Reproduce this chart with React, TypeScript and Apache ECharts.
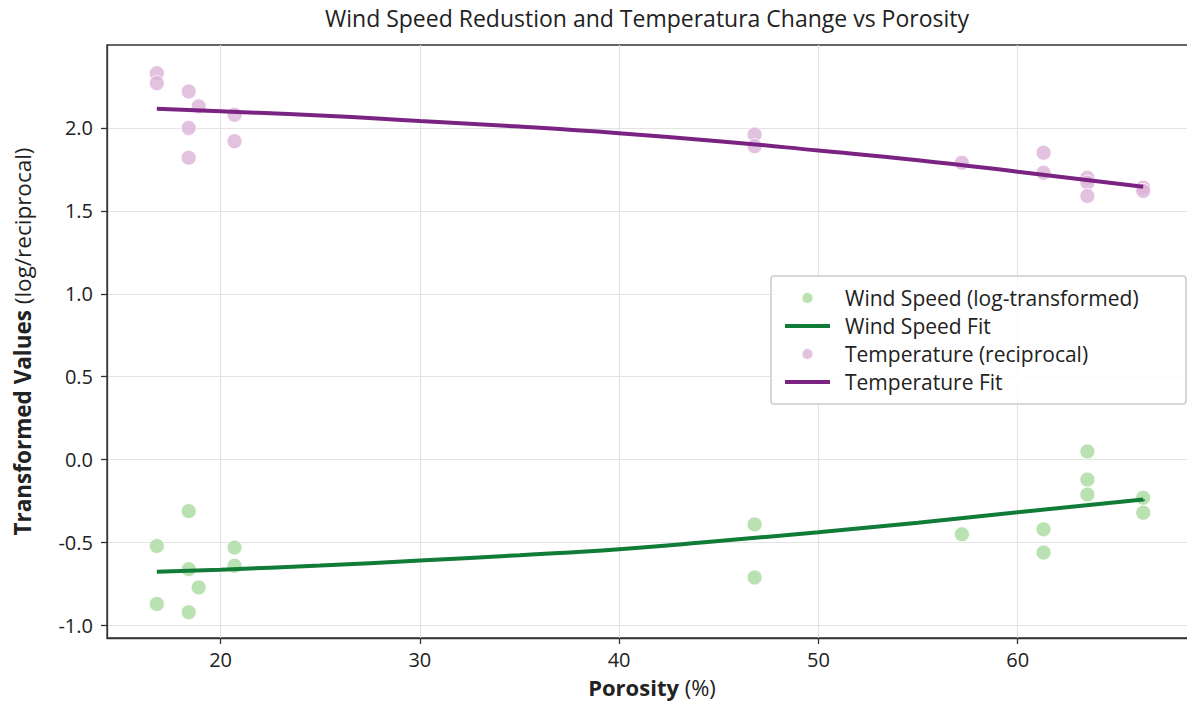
import { useEffect, useRef } from "react";
import * as echarts from "echarts";

const porosity = [16.8, 16.8, 18.4, 18.4, 18.4, 18.9, 20.7, 20.7, 46.8, 46.8, 57.2, 61.3, 61.3, 63.5, 63.5, 63.5, 66.3, 66.3];
const windLog = [-0.52, -0.87, -0.31, -0.66, -0.92, -0.77, -0.53, -0.64, -0.39, -0.71, -0.45, -0.42, -0.56, 0.05, -0.12, -0.21, -0.23, -0.32];
const tempRecip = [2.33, 2.27, 2.22, 2.0, 1.82, 2.13, 2.08, 1.92, 1.96, 1.89, 1.79, 1.85, 1.73, 1.7, 1.67, 1.59, 1.64, 1.62];

const fitX = [16.8, 20, 25, 30, 35, 40, 45, 50, 55, 60, 66.3];
const windFit = [-0.675, -0.663, -0.638, -0.608, -0.576, -0.54, -0.49, -0.437, -0.38, -0.317, -0.24];
const tempFit = [2.115, 2.1, 2.075, 2.042, 2.008, 1.968, 1.92, 1.864, 1.805, 1.736, 1.645];

const xTicks = [20, 30, 40, 50, 60];
const yTicks = [-1.0, -0.5, 0.0, 0.5, 1.0, 1.5, 2.0];

const seriesNames = [
  "Wind Speed (log-transformed)",
  "Wind Speed Fit",
  "Temperature (reciprocal)",
  "Temperature Fit",
];
const titleText = "Wind Speed Redustion and Temperatura Change vs Porosity";

const FONT = "Open Sans";
const LINE_ICON = "path://M0 0M0 4H45V8H0ZM45 12";

export default function App() {
  const ref = useRef<HTMLDivElement>(null);
  useEffect(() => {
    document.body.style.margin = "0";
    document.body.style.overflow = "hidden";
    const chart = echarts.init(ref.current!, null, { renderer: "svg" });
    const zip = (xs: number[], ys: number[]) => xs.map((x, i) => [x, ys[i]]);
    chart.setOption({
      animation: false,
      textStyle: { fontFamily: FONT },
      graphic: [
        {
          type: "text",
          x: 647,
          y: 6,
          style: {
            text: titleText,
            textAlign: "center",
            fontFamily: FONT,
            fontSize: 23,
            fill: "#222",
          },
        },
      ],
      grid: {
        left: 107,
        top: 45,
        right: 3,
        bottom: 68,
        show: true,
        borderColor: "#333",
        borderWidth: 1.3,
        containLabel: false,
      },
      legend: {
        orient: "vertical",
        left: 771,
        top: 276,
        padding: [8, 14, 8, 14],
        itemWidth: 45,
        itemHeight: 12,
        itemGap: 0,
        borderColor: "#cccccc",
        borderWidth: 1.5,
        borderRadius: 3,
        backgroundColor: "rgba(255,255,255,0.85)",
        textStyle: {
          fontFamily: FONT,
          fontSize: 21,
          lineHeight: 28,
          color: "#222",
          width: 327,
          padding: [0, 0, 0, 10],
        },
        data: [
          { name: seriesNames[0], icon: "circle" },
          { name: seriesNames[1], icon: LINE_ICON },
          { name: seriesNames[2], icon: "circle" },
          { name: seriesNames[3], icon: LINE_ICON },
        ],
      },
      xAxis: {
        type: "value",
        min: 14.3,
        max: 69,
        splitNumber: 5,
        name: "{b|Porosity} (%)",
        nameLocation: "middle",
        nameGap: 38,
        nameTextStyle: {
          fontFamily: FONT,
          fontSize: 22,
          color: "#222",
          rich: { b: { fontWeight: "bold", fontSize: 22, fontFamily: FONT, color: "#222" } },
        },
        axisLine: { onZero: false, lineStyle: { color: "#333", width: 1.3 } },
        axisTick: { show: true, length: 6, lineStyle: { color: "#333", width: 1.3 }, customValues: xTicks },
        axisLabel: { fontFamily: FONT, fontSize: 20, color: "#222", margin: 11, customValues: xTicks },
        splitLine: { show: true, lineStyle: { color: "#e3e3e3", width: 1.2 } },
      },
      yAxis: {
        type: "value",
        min: -1.075,
        max: 2.5,
        splitNumber: 7,
        name: "{b|Transformed Values} (log/reciprocal)",
        nameLocation: "middle",
        nameGap: 73,
        nameTextStyle: {
          fontFamily: FONT,
          fontSize: 22.5,
          color: "#222",
          rich: { b: { fontWeight: "bold", fontSize: 22.5, fontFamily: FONT, color: "#222" } },
        },
        axisLine: { show: true, onZero: false, lineStyle: { color: "#333", width: 1.3 } },
        axisTick: { show: true, length: 6, lineStyle: { color: "#333", width: 1.3 }, customValues: yTicks },
        axisLabel: {
          fontFamily: FONT,
          fontSize: 20,
          color: "#222",
          margin: 14,
          customValues: yTicks,
          formatter: (v: number) => v.toFixed(1),
        },
        splitLine: { show: true, lineStyle: { color: "#e3e3e3", width: 1.2 } },
      },
      series: [
        {
          name: seriesNames[0],
          type: "scatter",
          data: zip(porosity, windLog),
          symbolSize: 15,
          itemStyle: { color: "#a9d99e", borderColor: "#ffffff", borderWidth: 1 },
          z: 2,
        },
        {
          name: seriesNames[1],
          type: "line",
          data: zip(fitX, windFit),
          smooth: true,
          symbol: "none",
          showSymbol: false,
          lineStyle: { color: "#117b38", width: 4 },
          itemStyle: { color: "#117b38" },
          z: 3,
        },
        {
          name: seriesNames[2],
          type: "scatter",
          data: zip(porosity, tempRecip),
          symbolSize: 15,
          itemStyle: { color: "#dcb3d8", borderColor: "#ffffff", borderWidth: 1 },
          z: 2,
        },
        {
          name: seriesNames[3],
          type: "line",
          data: zip(fitX, tempFit),
          smooth: true,
          symbol: "none",
          showSymbol: false,
          lineStyle: { color: "#7b2382", width: 4 },
          itemStyle: { color: "#7b2382" },
          z: 3,
        },
      ],
    });
    return () => chart.dispose();
  }, []);
  return <div ref={ref} style={{ width: 1200, height: 706 }} />;
}
